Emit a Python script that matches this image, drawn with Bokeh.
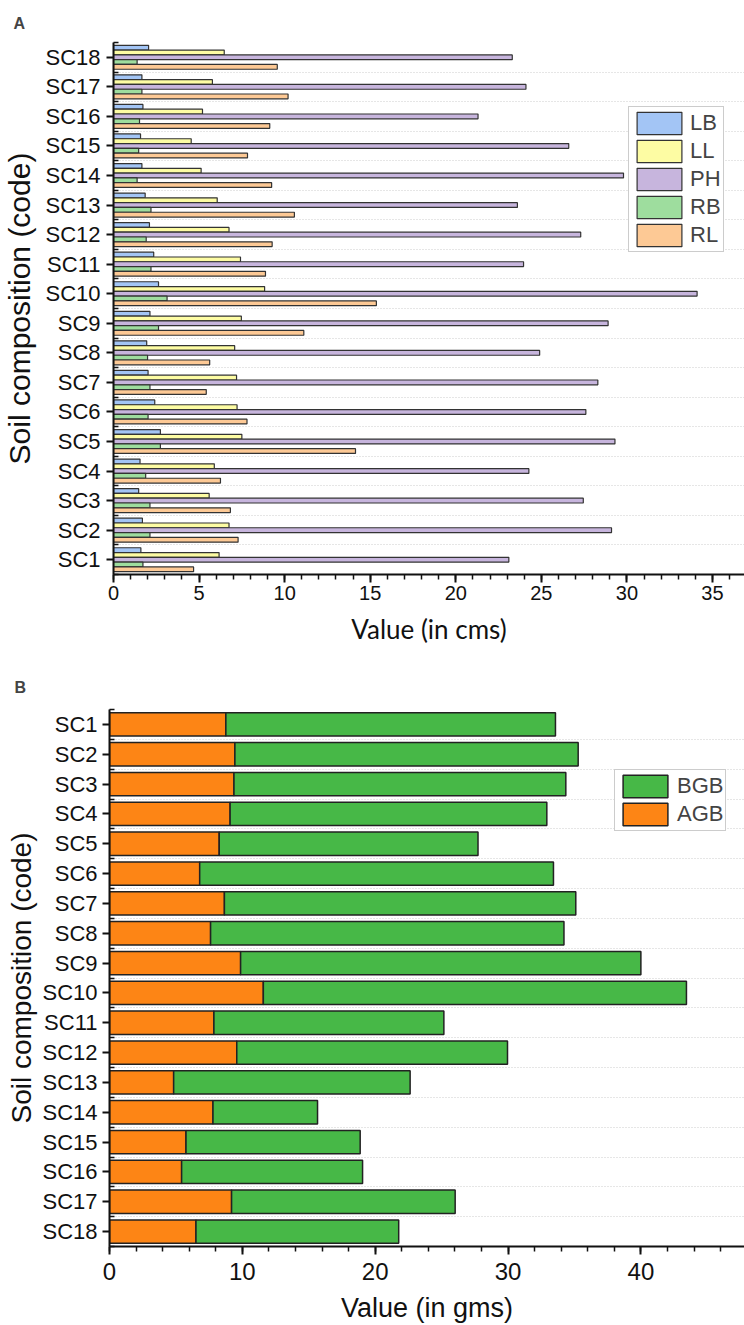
from bokeh.plotting import figure
from bokeh.models import Range1d, FixedTicker, SingleIntervalTicker, Legend, LegendItem, Title
from bokeh.layouts import column, row
from bokeh.embed import file_html
from bokeh.resources import INLINE

# ---------------- data ----------------
categories = ["SC1", "SC2", "SC3", "SC4", "SC5", "SC6", "SC7", "SC8", "SC9",
              "SC10", "SC11", "SC12", "SC13", "SC14", "SC15", "SC16", "SC17", "SC18"]

# Panel A (cm)
LB = [1.60, 1.69, 1.47, 1.55, 2.74, 2.41, 2.02, 1.94, 2.13, 2.63, 2.35, 2.10, 1.85, 1.66, 1.58, 1.72, 1.66, 2.05]
LL = [6.17, 6.75, 5.59, 5.89, 7.50, 7.22, 7.19, 7.08, 7.47, 8.83, 7.42, 6.75, 6.06, 5.12, 4.54, 5.20, 5.78, 6.47]
PH = [23.1, 29.1, 27.45, 24.27, 29.3, 27.6, 28.3, 24.9, 28.9, 34.1, 23.96, 27.3, 23.6, 29.8, 26.6, 21.3, 24.1, 23.3]
RB = [1.72, 2.13, 2.13, 1.88, 2.74, 2.02, 2.13, 1.99, 2.63, 3.13, 2.19, 1.91, 2.19, 1.38, 1.47, 1.52, 1.66, 1.38]
RL = [4.68, 7.28, 6.83, 6.25, 14.14, 7.80, 5.42, 5.62, 11.12, 15.36, 8.88, 9.27, 10.57, 9.24, 7.83, 9.13, 10.2, 9.57]
series_a = ["LB", "LL", "PH", "RB", "RL"]

# Panel B (g)
AGB = [8.76, 9.44, 9.37, 9.08, 8.26, 6.79, 8.65, 7.61, 9.87, 11.58, 7.86, 9.58, 4.83, 7.79, 5.76, 5.43, 9.19, 6.51]
BGB = [24.81, 25.84, 24.98, 23.84, 19.48, 26.63, 26.45, 26.60, 30.13, 31.85, 17.31, 20.38, 17.80, 7.87, 13.11, 13.62, 16.83, 15.26]

# ---------------- styles ----------------
SANS = "Liberation Sans"
colors_a = {"LB": "#a3c5f5", "LL": "#fdfca3", "PH": "#c7b5dd", "RB": "#9edd9e", "RL": "#fdc995"}
col_agb = "#fd8515"
col_bgb = "#47b847"

ypos = list(range(1, len(categories) + 1))
minor = [p - 0.5 for p in ypos] + [ypos[-1] + 0.5]
overrides = {p: c for p, c in zip(ypos, categories)}


def style_axes(p, ytick_standoff, ylabel_size, ylabel_standoff, xtick_size, xtick_standoff,
               xlabel_font, xlabel_size, xlabel_standoff):
    ytick = FixedTicker(ticks=ypos, minor_ticks=minor)
    p.yaxis.ticker = ytick
    p.ygrid.ticker = ytick
    p.yaxis.major_label_overrides = overrides
    p.outline_line_color = None
    p.xgrid.grid_line_color = None
    p.ygrid.grid_line_color = None
    p.ygrid.minor_grid_line_color = "#cccccc"
    p.ygrid.minor_grid_line_dash = "1 2"
    p.ygrid.minor_grid_line_width = 1
    for ax in (p.xaxis[0], p.yaxis[0]):
        ax.axis_line_color = "#111111"
        ax.axis_line_width = 2
        ax.major_tick_line_color = "#111111"
        ax.major_tick_line_width = 2
        ax.minor_tick_line_color = "#111111"
        ax.minor_tick_line_width = 1.5
        ax.axis_label_text_font_style = "normal"
        ax.axis_label_text_color = "#111111"
        ax.major_label_text_color = "#111111"
    y = p.yaxis[0]
    y.major_tick_out = 7
    y.major_tick_in = 0
    y.minor_tick_in = 5
    y.minor_tick_out = 0
    y.major_label_text_font = SANS
    y.major_label_text_font_size = "22px"
    y.major_label_standoff = ytick_standoff
    y.axis_label = "Soil composition (code)"
    y.axis_label_text_font = SANS
    y.axis_label_text_font_size = ylabel_size
    y.axis_label_standoff = ylabel_standoff
    x = p.xaxis[0]
    x.major_tick_out = 8
    x.major_tick_in = 0
    x.minor_tick_out = 5
    x.minor_tick_in = 0
    x.major_label_text_font = SANS
    x.major_label_text_font_size = xtick_size
    x.major_label_standoff = xtick_standoff
    x.axis_label_text_font = xlabel_font
    x.axis_label_text_font_size = xlabel_size
    x.axis_label_standoff = xlabel_standoff


# ---------------- Panel A ----------------
pA = figure(width=744, height=660, x_range=Range1d(0, 36.87), y_range=Range1d(0.5, 18.5),
            output_backend="svg", toolbar_location=None,
            min_border_left=112, min_border_right=0, min_border_top=42, min_border_bottom=86)
style_axes(pA, 6, "30px", 6, "20px", 3, "Lato", "26px", 10)
pA.xaxis[0].ticker = SingleIntervalTicker(interval=5, num_minor_ticks=5)
pA.xaxis[0].axis_label = "Value (in cms)"
pA.add_layout(Title(text="A", text_font=SANS, text_font_size="16px", text_font_style="bold",
                    align="left", offset=-100, standoff=22), "above")

h = 0.162
data_a = {"LB": LB, "LL": LL, "PH": PH, "RB": RB, "RL": RL}
items_a = []
for k, name in enumerate(series_a):
    off = (2 - k) * h
    r = pA.hbar(y=[p + off for p in ypos], right=data_a[name], left=0, height=h,
                fill_color=colors_a[name], line_color="#333333", line_width=1.2)
    items_a.append(LegendItem(label=name, renderers=[r]))

legA = Legend(items=items_a, location=(515, 322), glyph_width=56, glyph_height=28,
              spacing=0, padding=2, label_standoff=3, margin=0,
              label_text_font=SANS, label_text_font_size="22px",
              border_line_color="#9a9a9a", border_line_width=1, background_fill_alpha=1)
pA.add_layout(legA)

# ---------------- Panel B ----------------
pB = figure(width=744, height=665, x_range=Range1d(0, 47.8), y_range=Range1d(18.5, 0.5),
            output_backend="svg", toolbar_location=None,
            min_border_left=109, min_border_right=0, min_border_top=49, min_border_bottom=77)
style_axes(pB, 5, "28px", 2, "24px", 8, SANS, "27px", 10)
pB.xaxis[0].ticker = SingleIntervalTicker(interval=10, num_minor_ticks=5)
pB.xaxis[0].axis_label = "Value (in gms)"
pB.add_layout(Title(text="B", text_font=SANS, text_font_size="16px", text_font_style="bold",
                    align="left", offset=-95, standoff=27), "above")

src_b = {"y": ypos, "AGB": AGB, "BGB": BGB}
rs = pB.hbar_stack(["AGB", "BGB"], y="y", height=0.78, source=src_b,
                   fill_color=[col_agb, col_bgb], line_color="#222222", line_width=1.5)
legB = Legend(items=[LegendItem(label="BGB", renderers=[rs[1]]),
                     LegendItem(label="AGB", renderers=[rs[0]])],
              location=(505, 415), glyph_width=56, glyph_height=28,
              spacing=0, padding=2, label_standoff=4, margin=0,
              label_text_font=SANS, label_text_font_size="22px",
              border_line_color="#9a9a9a", border_line_width=1, background_fill_alpha=1)
pB.add_layout(legB)

layout = column(row(pA), row(pB), spacing=0)
open("out.html", "w").write(file_html(layout, INLINE))
